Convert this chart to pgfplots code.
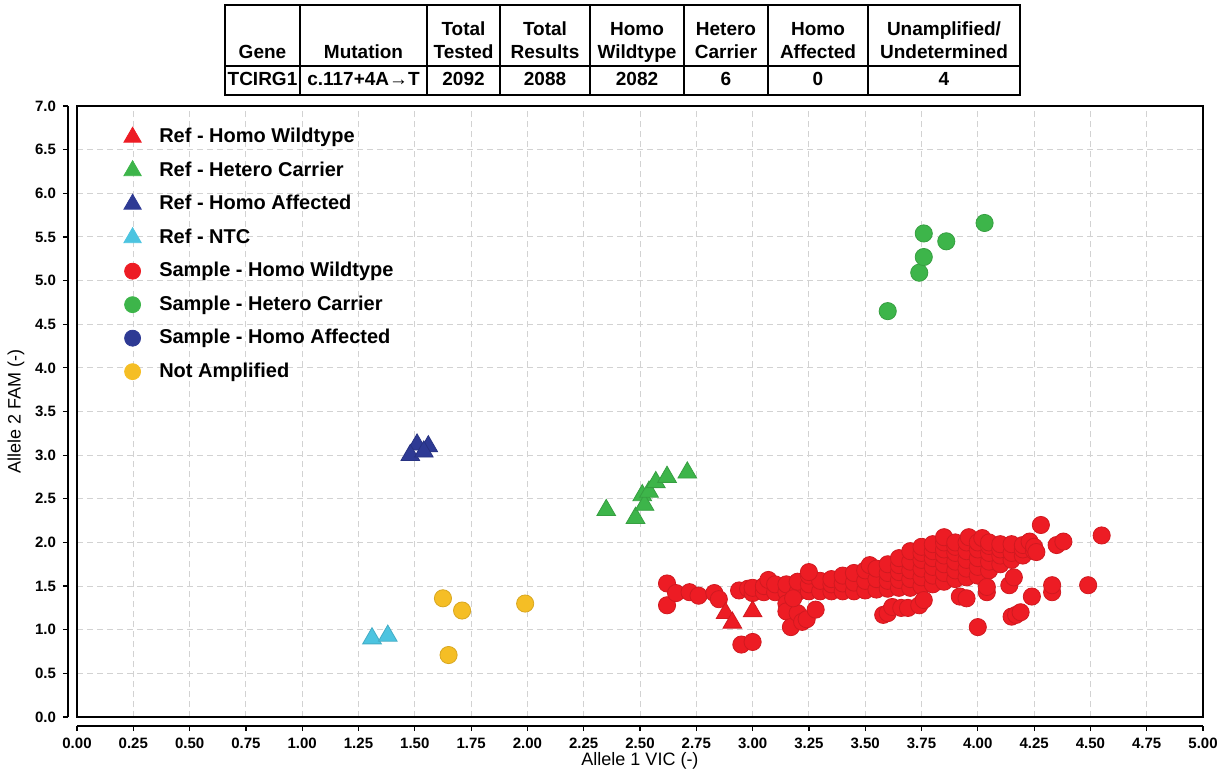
\documentclass[border=0pt]{standalone}
\usepackage{fontspec}
\setmainfont{Liberation Sans}
\usepackage{pgfplots}
\pgfplotsset{compat=1.18}

\definecolor{cred}{RGB}{237,28,36}
\definecolor{cgreen}{RGB}{61,181,74}
\definecolor{cblue}{RGB}{46,58,148}
\definecolor{ccyan}{RGB}{76,196,224}
\definecolor{cyellow}{RGB}{245,190,37}

\pgfplotsset{
  circ/.style={only marks, mark=*, mark size=4.3pt, forget plot,
    mark options={fill=#1, draw=#1!88!black, line width=0.4pt}},
  tri/.style={only marks, mark=triangle*, mark size=5.4pt, forget plot,
    mark options={fill=#1, draw=#1!88!black, line width=0.4pt}},
}

\begin{document}
\begin{tikzpicture}
\useasboundingbox (-38.5pt,-28pt) rectangle (573.5pt,358.5pt);

% plot box, grid, data and legend
\begin{axis}[
  scale only axis, width=563pt, height=305.5pt,
  xmin=0, xmax=5, ymin=0, ymax=7,
  xtick distance=0.25, ytick distance=0.5,
  xticklabels={}, yticklabels={},
  major tick length=0pt,
  grid=major,
  grid style={densely dashed, gray!35, line width=0.5pt},
  axis line style={line width=0.8pt},
  legend style={at={(0.036,0.977)}, anchor=north west, draw=none, fill=none,
    font=\fontsize{10}{12}\selectfont\bfseries, row sep=4.0pt,
    /tikz/every odd column/.append style={column sep=7pt}},
  legend cell align=left,
]
% Sample - Homo Wildtype
\addplot[circ=cred] coordinates {
 (2.62,1.53) (2.62,1.28) (2.66,1.42) (2.72,1.43) (2.76,1.39) (2.83,1.42)
 (2.85,1.35) (2.94,1.45) (2.98,1.47) (2.95,0.83) (3.00,0.86)
 (3.00,1.42) (3.00,1.48) (3.05,1.43) (3.05,1.50) (3.07,1.57) (3.10,1.43) (3.10,1.52)
 (3.15,1.43) (3.15,1.52) (3.20,1.43) (3.20,1.55) (3.25,1.44) (3.25,1.52) (3.25,1.62)
 (3.30,1.44) (3.30,1.56) (3.35,1.44) (3.35,1.52) (3.35,1.58)
 (3.40,1.44) (3.40,1.53) (3.40,1.62) (3.45,1.44) (3.45,1.54) (3.45,1.65)
 (3.50,1.45) (3.50,1.56) (3.50,1.68) (3.52,1.74) (3.55,1.46) (3.55,1.58) (3.55,1.70)
 (3.60,1.47) (3.60,1.56) (3.60,1.65) (3.60,1.75)
 (3.65,1.48) (3.65,1.57) (3.65,1.66) (3.65,1.74) (3.65,1.82)
 (3.70,1.48) (3.70,1.58) (3.70,1.68) (3.70,1.78) (3.70,1.90)
 (3.75,1.50) (3.75,1.60) (3.75,1.70) (3.75,1.80) (3.75,1.88) (3.75,1.95)
 (3.80,1.52) (3.80,1.62) (3.80,1.72) (3.80,1.82) (3.80,1.90) (3.80,1.98)
 (3.85,1.55) (3.85,1.65) (3.85,1.75) (3.85,1.85) (3.85,1.92) (3.85,2.00) (3.85,2.06)
 (3.90,1.58) (3.90,1.68) (3.90,1.78) (3.90,1.88) (3.90,1.95) (3.90,2.00)
 (3.95,1.60) (3.95,1.70) (3.95,1.80) (3.95,1.90) (3.95,2.00) (3.96,2.06)
 (4.00,1.62) (4.00,1.72) (4.00,1.82) (4.00,1.92) (4.00,2.00) (4.02,2.05)
 (4.05,1.68) (4.05,1.78) (4.05,1.88) (4.05,1.96) (4.05,2.00)
 (4.10,1.75) (4.10,1.85) (4.10,1.92) (4.10,1.98)
 (4.15,1.80) (4.15,1.88) (4.15,1.98) (4.20,1.85) (4.20,1.92) (4.20,1.97)
 (4.23,2.01) (4.25,1.90) (4.25,1.95) (4.26,1.89)
 (3.15,1.30) (3.15,1.21) (3.17,1.03) (3.20,1.19) (3.22,1.09) (3.24,1.12) (3.28,1.23)
 (3.18,1.36) (3.25,1.66)
 (3.58,1.17) (3.60,1.19) (3.62,1.26) (3.66,1.25) (3.69,1.25) (3.74,1.28) (3.76,1.34)
 (3.92,1.38) (3.95,1.36) (4.04,1.43) (4.04,1.49) (4.14,1.51) (4.16,1.60)
 (4.00,1.03) (4.15,1.15) (4.17,1.17) (4.19,1.20) (4.24,1.38)
 (4.33,1.43) (4.33,1.51) (4.49,1.51)
 (4.35,1.97) (4.38,2.01) (4.28,2.20) (4.55,2.08)
};
% Sample - Hetero Carrier
\addplot[circ=cgreen] coordinates {
 (3.60,4.65) (3.74,5.09) (3.76,5.27) (3.76,5.54) (3.86,5.45) (4.03,5.66)
};
% Not Amplified
\addplot[circ=cyellow] coordinates {
 (1.625,1.36) (1.71,1.22) (1.99,1.30) (1.65,0.71)
};
% Ref - Homo Wildtype
\addplot[tri=cred] coordinates {
 (2.88,1.19) (2.91,1.08) (3.00,1.21)
};
% Ref - Hetero Carrier
\addplot[tri=cgreen] coordinates {
 (2.35,2.37) (2.48,2.28) (2.51,2.54) (2.52,2.43) (2.54,2.58)
 (2.57,2.69) (2.62,2.75) (2.71,2.80)
};
% Ref - Homo Affected
\addplot[tri=cblue] coordinates {
 (1.51,3.12) (1.56,3.10) (1.48,3.00) (1.54,3.04)
};
% Ref - NTC
\addplot[tri=ccyan] coordinates {
 (1.31,0.90) (1.38,0.93)
};
\addlegendimage{only marks, mark=triangle*, mark size=5pt, color=cred}
\addlegendentry{Ref - Homo Wildtype}
\addlegendimage{only marks, mark=triangle*, mark size=5pt, color=cgreen}
\addlegendentry{Ref - Hetero Carrier}
\addlegendimage{only marks, mark=triangle*, mark size=5pt, color=cblue}
\addlegendentry{Ref - Homo Affected}
\addlegendimage{only marks, mark=triangle*, mark size=5pt, color=ccyan}
\addlegendentry{Ref - NTC}
\addlegendimage{only marks, mark=*, mark size=4pt, color=cred}
\addlegendentry{Sample - Homo Wildtype}
\addlegendimage{only marks, mark=*, mark size=4pt, color=cgreen}
\addlegendentry{Sample - Hetero Carrier}
\addlegendimage{only marks, mark=*, mark size=4pt, color=cblue}
\addlegendentry{Sample - Homo Affected}
\addlegendimage{only marks, mark=*, mark size=4pt, color=cyellow}
\addlegendentry{Not Amplified}
\end{axis}

% detached axis lines with ticks and labels
\begin{axis}[
  scale only axis, width=563pt, height=305.5pt,
  xmin=0, xmax=5, ymin=0, ymax=7,
  axis x line*=bottom, axis y line*=left,
  axis x line shift=4.5pt, axis y line shift=4.5pt,
  axis line style={line width=0.8pt},
  xtick distance=0.25, ytick distance=0.5,
  tick align=outside, major tick length=2.5pt,
  tick style={line width=0.6pt, black},
  /pgf/number format/assume math mode=true,
  xticklabel style={/pgf/number format/.cd, fixed, fixed zerofill, precision=2},
  yticklabel style={/pgf/number format/.cd, fixed, fixed zerofill, precision=1},
  ticklabel style={font=\fontsize{7.5}{9}\selectfont\bfseries},
  xlabel={Allele 1 VIC (-)}, ylabel={Allele 2 FAM (-)},
  label style={font=\fontsize{9}{11}\selectfont},
  xlabel style={at={(axis description cs:0.5,0)}, anchor=center, yshift=-22pt},
  ylabel style={at={(axis description cs:0,0.5)}, anchor=center, rotate=0, yshift=30.5pt},
]
\end{axis}

% summary table
\begin{scope}[line width=1pt]
\draw (74pt,311pt) rectangle (471.5pt,356pt);
\draw (74pt,325.5pt) -- (471.5pt,325.5pt);
\foreach \x in {111.5,175,211.5,256.5,303.5,345.5,395.5}
  \draw (\x pt,311pt) -- (\x pt,356pt);
\end{scope}
\begin{scope}[every node/.style={font=\fontsize{9.5}{12}\selectfont\bfseries, anchor=base, inner sep=0pt}]
\foreach \x/\a/\b/\c in {92.75//Gene/TCIRG1, 143.25//Mutation/c.117+4A→T,
  193.25/Total/Tested/2092, 234/Total/Results/2088, 280/Homo/Wildtype/2082,
  324.5/Hetero/Carrier/6, 370.5/Homo/Affected/0, 433.5/{Unamplified/}/Undetermined/4}{
  \node at (\x pt,341pt) {\a};
  \node at (\x pt,329.5pt) {\b};
  \node at (\x pt,316pt) {\c};
}
\end{scope}
\end{tikzpicture}
\end{document}
